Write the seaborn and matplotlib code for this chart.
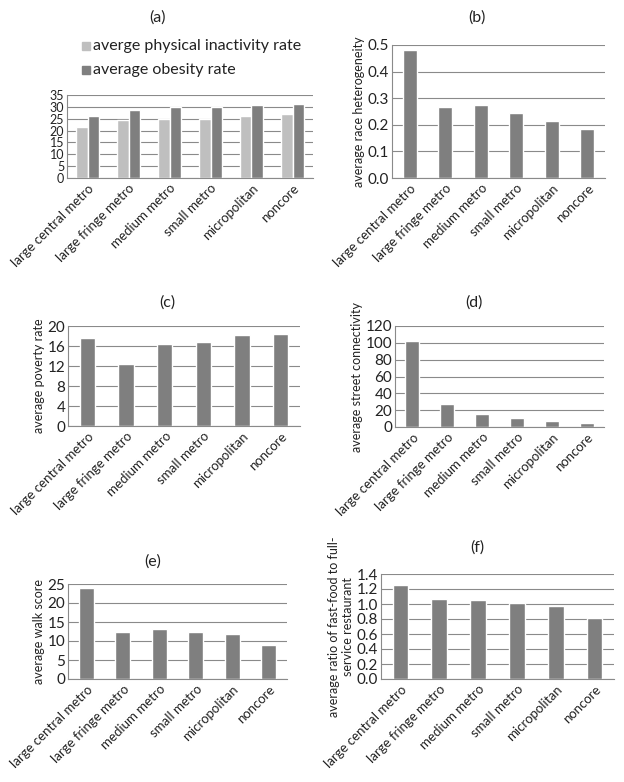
import matplotlib
matplotlib.use("Agg")
import matplotlib.pyplot as plt
import numpy as np
import pandas as pd
import seaborn as sns
from matplotlib.patches import Rectangle

# ==========================================
# DATA
# ==========================================
categories = ["large central metro", "large fringe metro", "medium metro",
              "small metro", "micropolitan", "noncore"]

inactivity = [21.5, 24.4, 25.0, 25.0, 26.1, 26.8]
obesity = [26.0, 28.8, 30.0, 30.0, 30.8, 31.3]
race_heterogeneity = [0.483, 0.268, 0.275, 0.246, 0.215, 0.186]
poverty = [17.7, 12.4, 16.4, 16.9, 18.2, 18.4]
street_connectivity = [102, 27, 16, 11, 7, 5]
walk_score = [24.0, 12.5, 13.1, 12.5, 11.8, 8.9]
fastfood_ratio = [1.26, 1.07, 1.05, 1.02, 0.98, 0.81]

legend_labels = ["averge physical inactivity rate", "average obesity rate"]

DARK = "#7f7f7f"
LIGHT = "#bfbfbf"
GRID = "#8a8a8a"
TXT = "#222222"
XFS = 9.5     # category labels
YFS = 11      # y tick labels
LFS = 9       # y axis titles

sns.set_style("white")
plt.rcParams["font.family"] = ["Lato", "DejaVu Sans"]

W, H = 624, 782
fig = plt.figure(figsize=(W / 100, H / 100), dpi=100)


def px_axes(left, top, right, bottom):
    return fig.add_axes([left / W, 1 - bottom / H, (right - left) / W, (bottom - top) / H])


def style_axes(ax, ymax, step, ylabel=None, fmt=None):
    ax.set_ylim(0, ymax)
    ticks = np.arange(0, ymax + step / 2, step)
    ax.set_yticks(ticks)
    if fmt:
        ax.set_yticklabels([fmt.format(t) for t in ticks])
    ax.yaxis.grid(True, color=GRID, lw=0.8)
    ax.set_axisbelow(True)
    for s in ["top", "right"]:
        ax.spines[s].set_visible(False)
    for s in ["left", "bottom"]:
        ax.spines[s].set_color(GRID)
        ax.spines[s].set_linewidth(0.8)
    ax.set_xlabel("")
    ax.set_ylabel(ylabel if ylabel else "", fontsize=LFS, color=TXT, labelpad=2)
    ax.tick_params(axis="y", labelsize=YFS, length=0, pad=2, colors=TXT)
    # boundary ticks like the spreadsheet style
    ax.set_xticks(np.arange(-0.5, len(categories), 1.0), minor=True)
    ax.tick_params(axis="x", which="minor", length=4, color=GRID, width=0.8)
    ax.tick_params(axis="x", which="major", length=0, labelsize=XFS, pad=3, colors=TXT)
    ax.set_xticks(range(len(categories)))
    ax.set_xticklabels(categories, rotation=45, ha="right", rotation_mode="anchor")
    ax.set_xlim(-0.5, len(categories) - 0.5)


# (a) grouped bars
ax_a = px_axes(67, 95, 313, 178)
df_a = pd.DataFrame({
    "category": categories * 2,
    "value": inactivity + obesity,
    "series": [legend_labels[0]] * 6 + [legend_labels[1]] * 6,
})
sns.barplot(data=df_a, x="category", y="value", hue="series", order=categories,
            palette=[LIGHT, DARK], width=0.58, ax=ax_a, legend=False,
            saturation=1)
style_axes(ax_a, 35, 5)
ax_a.tick_params(axis="y", labelsize=9, pad=2)
for i, (lab, col) in enumerate(zip(legend_labels, [LIGHT, DARK])):
    y = 46 + i * 24
    fig.patches.append(Rectangle((82 / W, 1 - (y + 4) / H), 8 / W, 8 / H,
                                 transform=fig.transFigure, color=col))
    fig.text(93 / W, 1 - y / H, lab, fontsize=11.5, va="center", ha="left", color=TXT)

# (b)
ax_b = px_axes(392, 45, 605, 178)
sns.barplot(x=categories, y=race_heterogeneity, color=DARK, width=0.4, ax=ax_b,
            saturation=1)
style_axes(ax_b, 0.5, 0.1, "average race heterogeneity", "{:.1f}")

# (c)
ax_c = px_axes(68, 326, 300, 426)
sns.barplot(x=categories, y=poverty, color=DARK, width=0.4, ax=ax_c, saturation=1)
style_axes(ax_c, 20, 4, "average poverty rate")

# (d)
ax_d = px_axes(395, 326, 604, 427)
sns.barplot(x=categories, y=street_connectivity, color=DARK, width=0.4, ax=ax_d,
            saturation=1)
style_axes(ax_d, 120, 20, "average street connectivity")

# (e)
ax_e = px_axes(68, 584, 287, 679)
sns.barplot(x=categories, y=walk_score, color=DARK, width=0.4, ax=ax_e, saturation=1)
style_axes(ax_e, 25, 5, "average walk score")

# (f)
ax_f = px_axes(381, 574, 614, 679)
sns.barplot(x=categories, y=fastfood_ratio, color=DARK, width=0.4, ax=ax_f,
            saturation=1)
style_axes(ax_f, 1.4, 0.2, "average ratio of fast-food to full-\nservice restaurant", "{:.1f}")

# panel titles
for lab, (x, y) in {"(a)": (158, 18), "(b)": (477, 18), "(c)": (167, 303),
                    "(d)": (474, 303), "(e)": (153, 562), "(f)": (477, 548)}.items():
    fig.text(x / W, 1 - y / H, lab, fontsize=11.5, ha="center", va="center", color=TXT)

fig.savefig("out.png", dpi=100)
